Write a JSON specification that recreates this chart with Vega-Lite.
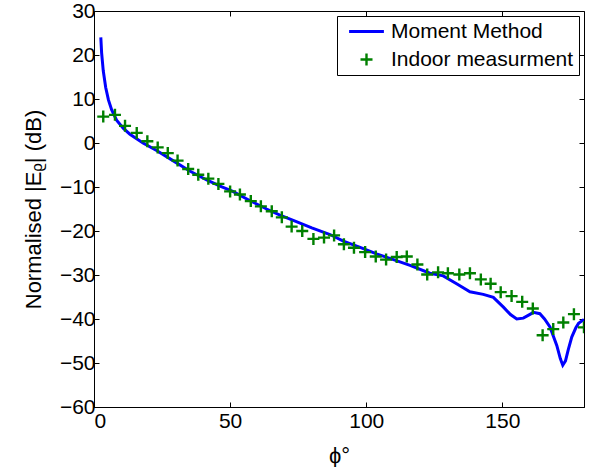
{
  "$schema": "https://vega.github.io/schema/vega-lite/v6.json",
  "width": 490,
  "height": 396,
  "autosize": "none",
  "padding": {"left": 94, "top": 11, "right": 7, "bottom": 60},
  "background": "white",
  "config": {
    "font": "Liberation Sans",
    "view": {"stroke": "black", "strokeWidth": 1},
    "axis": {
      "grid": false,
      "domainColor": "black",
      "tickColor": "black",
      "tickSize": -5,
      "labelColor": "black",
      "titleColor": "black",
      "labelFont": "Liberation Sans",
      "titleFont": "Liberation Sans",
      "labelFontSize": 21,
      "titleFontSize": 22,
      "titleFontWeight": "normal"
    },
    "legend": {
      "labelFont": "Liberation Sans",
      "labelFontSize": 21,
      "labelColor": "black",
      "labelLimit": 400
    }
  },
  "datasets": {
    "mm": [
      {"phi": 2.5, "db": 24.0, "series": "Moment Method"},
      {"phi": 2.8, "db": 20.5, "series": "Moment Method"},
      {"phi": 3.4, "db": 16.4, "series": "Moment Method"},
      {"phi": 4.3, "db": 12.6, "series": "Moment Method"},
      {"phi": 5.3, "db": 9.8, "series": "Moment Method"},
      {"phi": 6.5, "db": 7.5, "series": "Moment Method"},
      {"phi": 8.3, "db": 5.2, "series": "Moment Method"},
      {"phi": 10.8, "db": 3.3, "series": "Moment Method"},
      {"phi": 13.2, "db": 2.0, "series": "Moment Method"},
      {"phi": 18.0, "db": 0.0, "series": "Moment Method"},
      {"phi": 23.0, "db": -1.7, "series": "Moment Method"},
      {"phi": 29.0, "db": -4.0, "series": "Moment Method"},
      {"phi": 35.0, "db": -6.3, "series": "Moment Method"},
      {"phi": 41.4, "db": -8.4, "series": "Moment Method"},
      {"phi": 46.3, "db": -9.8, "series": "Moment Method"},
      {"phi": 51.0, "db": -11.0, "series": "Moment Method"},
      {"phi": 57.0, "db": -13.0, "series": "Moment Method"},
      {"phi": 63.4, "db": -15.0, "series": "Moment Method"},
      {"phi": 68.3, "db": -16.4, "series": "Moment Method"},
      {"phi": 73.2, "db": -17.6, "series": "Moment Method"},
      {"phi": 80.0, "db": -19.3, "series": "Moment Method"},
      {"phi": 86.7, "db": -20.8, "series": "Moment Method"},
      {"phi": 91.6, "db": -22.3, "series": "Moment Method"},
      {"phi": 98.0, "db": -23.8, "series": "Moment Method"},
      {"phi": 103.8, "db": -25.2, "series": "Moment Method"},
      {"phi": 110.0, "db": -26.5, "series": "Moment Method"},
      {"phi": 116.1, "db": -27.8, "series": "Moment Method"},
      {"phi": 123.4, "db": -29.6, "series": "Moment Method"},
      {"phi": 128.3, "db": -30.2, "series": "Moment Method"},
      {"phi": 133.2, "db": -32.0, "series": "Moment Method"},
      {"phi": 138.1, "db": -33.8, "series": "Moment Method"},
      {"phi": 143.0, "db": -34.4, "series": "Moment Method"},
      {"phi": 146.7, "db": -35.1, "series": "Moment Method"},
      {"phi": 150.4, "db": -37.3, "series": "Moment Method"},
      {"phi": 153.0, "db": -39.0, "series": "Moment Method"},
      {"phi": 155.3, "db": -40.0, "series": "Moment Method"},
      {"phi": 157.7, "db": -39.8, "series": "Moment Method"},
      {"phi": 160.0, "db": -39.0, "series": "Moment Method"},
      {"phi": 161.4, "db": -38.5, "series": "Moment Method"},
      {"phi": 163.8, "db": -38.8, "series": "Moment Method"},
      {"phi": 165.5, "db": -40.0, "series": "Moment Method"},
      {"phi": 167.5, "db": -41.8, "series": "Moment Method"},
      {"phi": 170.0, "db": -46.0, "series": "Moment Method"},
      {"phi": 171.3, "db": -49.0, "series": "Moment Method"},
      {"phi": 172.2, "db": -50.5, "series": "Moment Method"},
      {"phi": 173.2, "db": -49.5, "series": "Moment Method"},
      {"phi": 174.2, "db": -47.0, "series": "Moment Method"},
      {"phi": 175.5, "db": -44.1, "series": "Moment Method"},
      {"phi": 177.0, "db": -42.0, "series": "Moment Method"},
      {"phi": 178.0, "db": -41.0, "series": "Moment Method"},
      {"phi": 180.0, "db": -40.1, "series": "Moment Method"}
    ],
    "meas": [
      {"phi": 3.4, "db": 6.0, "series": "Indoor measurment"},
      {"phi": 7.7, "db": 6.4, "series": "Indoor measurment"},
      {"phi": 11.4, "db": 3.9, "series": "Indoor measurment"},
      {"phi": 15.7, "db": 2.3, "series": "Indoor measurment"},
      {"phi": 19.6, "db": 0.4, "series": "Indoor measurment"},
      {"phi": 23.4, "db": -1.0, "series": "Indoor measurment"},
      {"phi": 27.1, "db": -2.3, "series": "Indoor measurment"},
      {"phi": 30.7, "db": -4.0, "series": "Indoor measurment"},
      {"phi": 34.6, "db": -5.9, "series": "Indoor measurment"},
      {"phi": 38.3, "db": -7.2, "series": "Indoor measurment"},
      {"phi": 42.0, "db": -8.1, "series": "Indoor measurment"},
      {"phi": 45.7, "db": -9.3, "series": "Indoor measurment"},
      {"phi": 50.0, "db": -11.0, "series": "Indoor measurment"},
      {"phi": 53.6, "db": -11.7, "series": "Indoor measurment"},
      {"phi": 57.6, "db": -13.2, "series": "Indoor measurment"},
      {"phi": 61.3, "db": -14.4, "series": "Indoor measurment"},
      {"phi": 65.3, "db": -15.5, "series": "Indoor measurment"},
      {"phi": 69.0, "db": -16.9, "series": "Indoor measurment"},
      {"phi": 72.6, "db": -19.0, "series": "Indoor measurment"},
      {"phi": 76.5, "db": -20.0, "series": "Indoor measurment"},
      {"phi": 80.6, "db": -21.8, "series": "Indoor measurment"},
      {"phi": 84.5, "db": -21.5, "series": "Indoor measurment"},
      {"phi": 88.2, "db": -21.0, "series": "Indoor measurment"},
      {"phi": 91.8, "db": -23.0, "series": "Indoor measurment"},
      {"phi": 95.5, "db": -23.8, "series": "Indoor measurment"},
      {"phi": 99.6, "db": -24.8, "series": "Indoor measurment"},
      {"phi": 103.5, "db": -25.8, "series": "Indoor measurment"},
      {"phi": 107.3, "db": -26.5, "series": "Indoor measurment"},
      {"phi": 111.2, "db": -25.9, "series": "Indoor measurment"},
      {"phi": 114.9, "db": -25.8, "series": "Indoor measurment"},
      {"phi": 118.8, "db": -27.6, "series": "Indoor measurment"},
      {"phi": 122.4, "db": -29.9, "series": "Indoor measurment"},
      {"phi": 126.4, "db": -29.4, "series": "Indoor measurment"},
      {"phi": 130.0, "db": -29.6, "series": "Indoor measurment"},
      {"phi": 134.2, "db": -29.9, "series": "Indoor measurment"},
      {"phi": 138.1, "db": -29.6, "series": "Indoor measurment"},
      {"phi": 142.1, "db": -31.0, "series": "Indoor measurment"},
      {"phi": 145.7, "db": -32.0, "series": "Indoor measurment"},
      {"phi": 149.4, "db": -33.9, "series": "Indoor measurment"},
      {"phi": 153.4, "db": -34.8, "series": "Indoor measurment"},
      {"phi": 157.3, "db": -36.1, "series": "Indoor measurment"},
      {"phi": 161.2, "db": -37.6, "series": "Indoor measurment"},
      {"phi": 164.8, "db": -43.7, "series": "Indoor measurment"},
      {"phi": 168.7, "db": -42.3, "series": "Indoor measurment"},
      {"phi": 172.4, "db": -40.8, "series": "Indoor measurment"},
      {"phi": 176.3, "db": -38.9, "series": "Indoor measurment"},
      {"phi": 180.0, "db": -41.9, "series": "Indoor measurment"}
    ]
  },
  "layer": [
    {
      "data": {"name": "mm"},
      "mark": {"type": "line", "strokeWidth": 3, "clip": true},
      "encoding": {
        "x": {
          "field": "phi", "type": "quantitative",
          "scale": {"domain": [0, 180], "nice": false, "zero": false},
          "axis": {"orient": "bottom", "values": [0, 50, 100, 150], "title": "ϕ°", "labelPadding": 8, "titlePadding": 14}
        },
        "y": {
          "field": "db", "type": "quantitative",
          "scale": {"domain": [-60, 30], "nice": false, "zero": false},
          "axis": {"orient": "left", "values": [-60, -50, -40, -30, -20, -10, 0, 10, 20, 30], "title": "Normalised |Eᵨ| (dB)", "labelPadding": 4, "titlePadding": 14}
        },
        "color": {
          "field": "series", "type": "nominal",
          "scale": {"domain": ["Moment Method", "Indoor measurment"], "range": ["#0000ff", "#008000"]},
          "legend": {
            "title": null,
            "orient": "top-right",
            "offset": 5,
            "padding": 5,
            "fillColor": "white",
            "strokeColor": "black",
            "symbolSize": 144,
            "symbolOffset": 14,
            "labelOffset": 14,
            "rowPadding": 6,
            "encode": {
              "symbols": {
                "update": {
                  "shape": {"signal": "datum.value === 'Moment Method' ? 'M-2.9,-0.25H2.9V0.25H-2.9Z' : 'M-1,-0.2H-0.2V-1H0.2V-0.2H1V0.2H0.2V1H-0.2V0.2H-1Z'"},
                  "fill": {"signal": "datum.value === 'Moment Method' ? '#0000ff' : '#008000'"},
                  "fillOpacity": {"value": 1},
                  "opacity": {"value": 1},
                  "strokeWidth": {"value": 0}
                }
              }
            }
          }
        }
      }
    },
    {
      "data": {"name": "meas"},
      "mark": {"type": "point", "filled": true, "size": 144, "opacity": 1, "shape": "M-1,-0.2H-0.2V-1H0.2V-0.2H1V0.2H0.2V1H-0.2V0.2H-1Z", "clip": true},
      "encoding": {
        "x": {
          "field": "phi", "type": "quantitative",
          "axis": {"orient": "top", "values": [0, 50, 100, 150], "labels": false, "title": null, "domain": false}
        },
        "y": {
          "field": "db", "type": "quantitative",
          "axis": {"orient": "right", "values": [-60, -50, -40, -30, -20, -10, 0, 10, 20, 30], "labels": false, "title": null, "domain": false}
        },
        "color": {"field": "series", "type": "nominal"}
      }
    }
  ],
  "resolve": {"axis": {"x": "independent", "y": "independent"}}
}
